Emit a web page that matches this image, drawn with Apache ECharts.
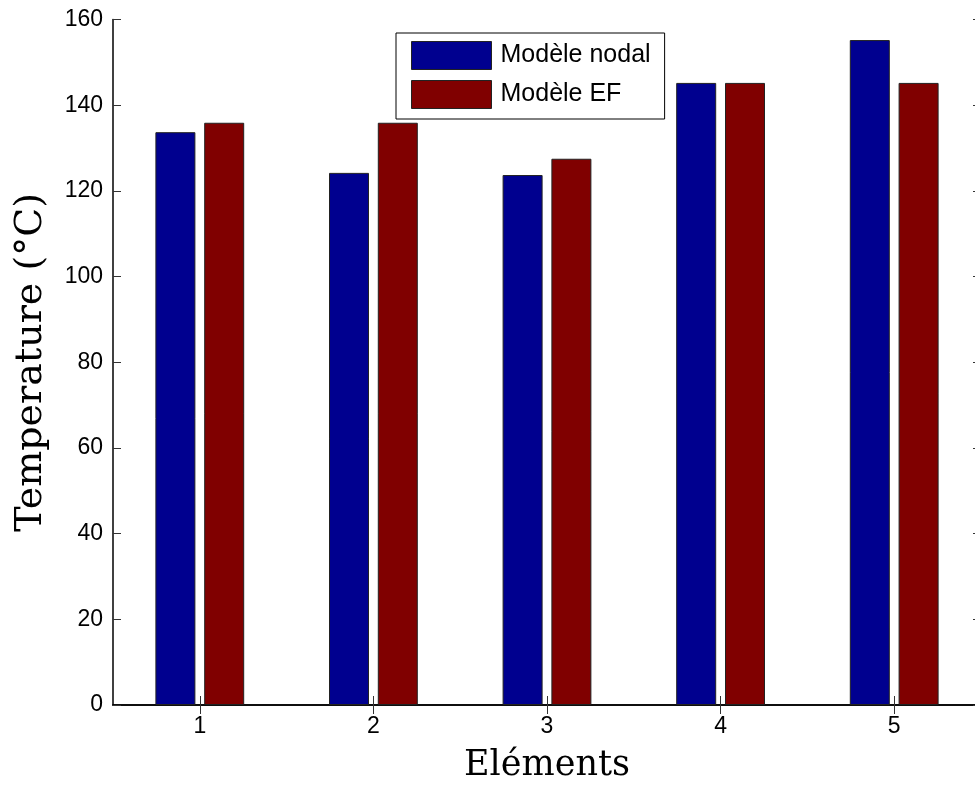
<!DOCTYPE html>
<html>
<head>
<meta charset="utf-8">
<script src="https://cdn.jsdelivr.net/npm/echarts@6/dist/echarts.min.js"></script>
<style>html,body{margin:0;padding:0;background:#fff;overflow:hidden}#c{width:1000px;height:785px}</style>
</head>
<body>
<div id="c"></div>
<script>
const categories = ['1', '2', '3', '4', '5'];
const nodalValues = [133.7, 124.2, 123.7, 145.2, 155.2];
const efValues = [135.9, 135.9, 127.5, 145.2, 145.2];
const seriesNames = ['Modèle nodal', 'Modèle EF'];
const yTicks = { min: 0, max: 160, interval: 20 };

const chart = echarts.init(document.getElementById('c'));
const tickFont = { fontFamily: 'Liberation Sans, Arial, sans-serif', fontSize: 23, color: '#000' };
const barStyle = (c) => ({ color: c, borderColor: '#222', borderWidth: 1 });
chart.setOption({
  animation: false,
  backgroundColor: '#fff',
  grid: { left: 113, top: 19.5, width: 868, height: 685.5, containLabel: false, outerBoundsMode: 'none' },
  legend: {
    orient: 'vertical', left: 396, top: 33,
    padding: [8, 14, 10, 15],
    borderColor: '#000', borderWidth: 1, backgroundColor: '#fff',
    itemWidth: 80, itemHeight: 28, itemGap: 10, icon: 'rect',
    itemStyle: { borderColor: '#222', borderWidth: 1 },
    textStyle: { fontFamily: 'Liberation Sans, Arial, sans-serif', fontSize: 25, color: '#000', padding: [0, 0, 0, 4] },
    data: seriesNames
  },
  xAxis: [{
    type: 'category', data: categories, position: 'bottom',
    name: 'Eléments', nameLocation: 'middle', nameGap: 43,
    nameTextStyle: { fontFamily: 'DejaVu Serif, serif', fontSize: 35, color: '#000' },
    axisLine: { show: true, lineStyle: { color: '#000', width: 1.5 } },
    axisTick: { show: true, inside: true, length: 9, alignWithLabel: true, lineStyle: { color: '#333' } },
    axisLabel: Object.assign({ margin: 10 }, tickFont),
    splitLine: { show: false }
  }, {
    type: 'category', data: categories, position: 'top',
    axisLine: { show: true, lineStyle: { color: '#000', width: 1.5 } },
    axisTick: { show: true, inside: true, length: 9, alignWithLabel: true, lineStyle: { color: '#333' } },
    axisLabel: { show: false }, splitLine: { show: false }
  }],
  yAxis: [{
    type: 'value', min: yTicks.min, max: yTicks.max, interval: yTicks.interval, position: 'left',
    name: 'Temperature (°C)', nameLocation: 'middle', nameGap: 63, nameRotate: 90,
    nameTextStyle: { fontFamily: 'DejaVu Serif, serif', fontSize: 38, color: '#000' },
    axisLine: { show: true, lineStyle: { color: '#000', width: 1.5 } },
    axisTick: { show: true, inside: true, length: 8, lineStyle: { color: '#333' } },
    axisLabel: Object.assign({ margin: 10 }, tickFont),
    splitLine: { show: false }
  }, {
    type: 'value', min: yTicks.min, max: yTicks.max, interval: yTicks.interval, position: 'right',
    axisLine: { show: true, lineStyle: { color: '#000', width: 1.5 } },
    axisTick: { show: true, inside: true, length: 8, lineStyle: { color: '#333' } },
    axisLabel: { show: false }, splitLine: { show: false }
  }],
  series: [
    { name: seriesNames[0], type: 'bar', data: nodalValues, barWidth: 40, barGap: '22%', itemStyle: barStyle('#00008F') },
    { name: seriesNames[1], type: 'bar', data: efValues, barWidth: 40, barGap: '22%', itemStyle: barStyle('#800000') }
  ]
});
</script>
</body>
</html>
